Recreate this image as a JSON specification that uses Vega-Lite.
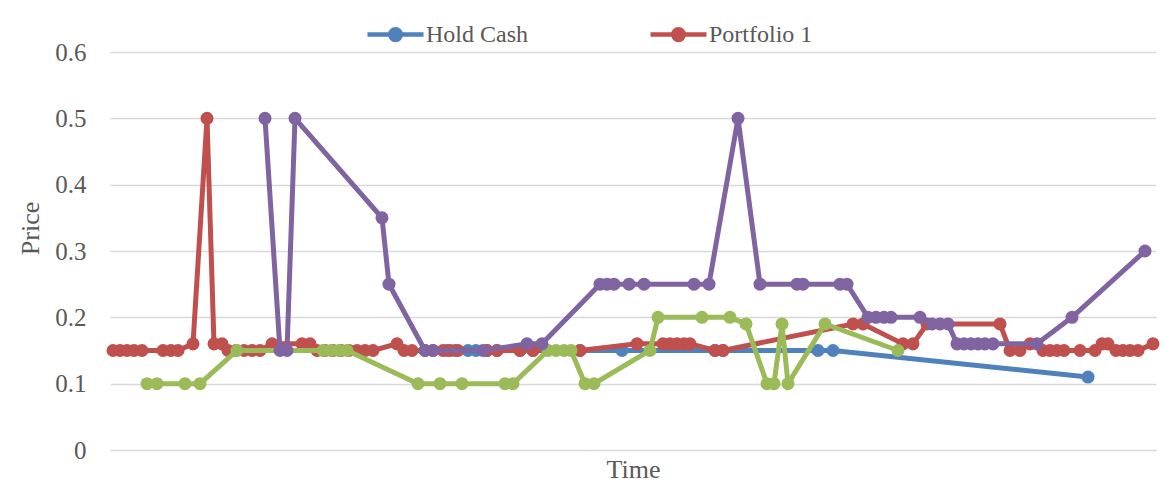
{
  "$schema": "https://vega.github.io/schema/vega-lite/v6.json",
  "width": 1046,
  "height": 398,
  "autosize": {"type": "none"},
  "padding": {"left": 110, "top": 52, "right": 11, "bottom": 40},
  "background": "white",
  "config": {
    "view": {"stroke": null},
    "font": "Liberation Serif"
  },
  "datasets": {
    "pts": [
      {"s": "Hold Cash", "t": 447, "p": 0.15},
      {"s": "Hold Cash", "t": 455, "p": 0.15},
      {"s": "Hold Cash", "t": 468, "p": 0.15},
      {"s": "Hold Cash", "t": 476, "p": 0.15},
      {"s": "Hold Cash", "t": 487, "p": 0.15},
      {"s": "Hold Cash", "t": 497, "p": 0.15},
      {"s": "Hold Cash", "t": 520, "p": 0.15},
      {"s": "Hold Cash", "t": 533, "p": 0.15},
      {"s": "Hold Cash", "t": 580, "p": 0.15},
      {"s": "Hold Cash", "t": 622, "p": 0.15},
      {"s": "Hold Cash", "t": 715, "p": 0.15},
      {"s": "Hold Cash", "t": 723, "p": 0.15},
      {"s": "Hold Cash", "t": 818, "p": 0.15},
      {"s": "Hold Cash", "t": 833, "p": 0.15},
      {"s": "Hold Cash", "t": 1088, "p": 0.11},

      {"s": "Portfolio 1", "t": 113, "p": 0.15},
      {"s": "Portfolio 1", "t": 120, "p": 0.15},
      {"s": "Portfolio 1", "t": 127, "p": 0.15},
      {"s": "Portfolio 1", "t": 134, "p": 0.15},
      {"s": "Portfolio 1", "t": 142, "p": 0.15},
      {"s": "Portfolio 1", "t": 163, "p": 0.15},
      {"s": "Portfolio 1", "t": 171, "p": 0.15},
      {"s": "Portfolio 1", "t": 178, "p": 0.15},
      {"s": "Portfolio 1", "t": 193, "p": 0.16},
      {"s": "Portfolio 1", "t": 207, "p": 0.5},
      {"s": "Portfolio 1", "t": 214, "p": 0.16},
      {"s": "Portfolio 1", "t": 222, "p": 0.16},
      {"s": "Portfolio 1", "t": 228, "p": 0.15},
      {"s": "Portfolio 1", "t": 236, "p": 0.15},
      {"s": "Portfolio 1", "t": 244, "p": 0.15},
      {"s": "Portfolio 1", "t": 252, "p": 0.15},
      {"s": "Portfolio 1", "t": 260, "p": 0.15},
      {"s": "Portfolio 1", "t": 272, "p": 0.16},
      {"s": "Portfolio 1", "t": 302, "p": 0.16},
      {"s": "Portfolio 1", "t": 310, "p": 0.16},
      {"s": "Portfolio 1", "t": 317, "p": 0.15},
      {"s": "Portfolio 1", "t": 325, "p": 0.15},
      {"s": "Portfolio 1", "t": 333, "p": 0.15},
      {"s": "Portfolio 1", "t": 341, "p": 0.15},
      {"s": "Portfolio 1", "t": 349, "p": 0.15},
      {"s": "Portfolio 1", "t": 357, "p": 0.15},
      {"s": "Portfolio 1", "t": 365, "p": 0.15},
      {"s": "Portfolio 1", "t": 373, "p": 0.15},
      {"s": "Portfolio 1", "t": 397, "p": 0.16},
      {"s": "Portfolio 1", "t": 404, "p": 0.15},
      {"s": "Portfolio 1", "t": 412, "p": 0.15},
      {"s": "Portfolio 1", "t": 425, "p": 0.15},
      {"s": "Portfolio 1", "t": 433, "p": 0.15},
      {"s": "Portfolio 1", "t": 443, "p": 0.15},
      {"s": "Portfolio 1", "t": 450, "p": 0.15},
      {"s": "Portfolio 1", "t": 458, "p": 0.15},
      {"s": "Portfolio 1", "t": 487, "p": 0.15},
      {"s": "Portfolio 1", "t": 497, "p": 0.15},
      {"s": "Portfolio 1", "t": 520, "p": 0.15},
      {"s": "Portfolio 1", "t": 533, "p": 0.15},
      {"s": "Portfolio 1", "t": 580, "p": 0.15},
      {"s": "Portfolio 1", "t": 637, "p": 0.16},
      {"s": "Portfolio 1", "t": 663, "p": 0.16},
      {"s": "Portfolio 1", "t": 670, "p": 0.16},
      {"s": "Portfolio 1", "t": 677, "p": 0.16},
      {"s": "Portfolio 1", "t": 684, "p": 0.16},
      {"s": "Portfolio 1", "t": 690, "p": 0.16},
      {"s": "Portfolio 1", "t": 715, "p": 0.15},
      {"s": "Portfolio 1", "t": 723, "p": 0.15},
      {"s": "Portfolio 1", "t": 853, "p": 0.19},
      {"s": "Portfolio 1", "t": 863, "p": 0.19},
      {"s": "Portfolio 1", "t": 903, "p": 0.16},
      {"s": "Portfolio 1", "t": 913, "p": 0.16},
      {"s": "Portfolio 1", "t": 927, "p": 0.19},
      {"s": "Portfolio 1", "t": 1000, "p": 0.19},
      {"s": "Portfolio 1", "t": 1010, "p": 0.15},
      {"s": "Portfolio 1", "t": 1020, "p": 0.15},
      {"s": "Portfolio 1", "t": 1030, "p": 0.16},
      {"s": "Portfolio 1", "t": 1043, "p": 0.15},
      {"s": "Portfolio 1", "t": 1050, "p": 0.15},
      {"s": "Portfolio 1", "t": 1057, "p": 0.15},
      {"s": "Portfolio 1", "t": 1064, "p": 0.15},
      {"s": "Portfolio 1", "t": 1080, "p": 0.15},
      {"s": "Portfolio 1", "t": 1095, "p": 0.15},
      {"s": "Portfolio 1", "t": 1102, "p": 0.16},
      {"s": "Portfolio 1", "t": 1108, "p": 0.16},
      {"s": "Portfolio 1", "t": 1116, "p": 0.15},
      {"s": "Portfolio 1", "t": 1123, "p": 0.15},
      {"s": "Portfolio 1", "t": 1130, "p": 0.15},
      {"s": "Portfolio 1", "t": 1138, "p": 0.15},
      {"s": "Portfolio 1", "t": 1153, "p": 0.16},

      {"s": "Portfolio 2", "t": 147, "p": 0.1},
      {"s": "Portfolio 2", "t": 157, "p": 0.1},
      {"s": "Portfolio 2", "t": 185, "p": 0.1},
      {"s": "Portfolio 2", "t": 200, "p": 0.1},
      {"s": "Portfolio 2", "t": 237, "p": 0.15},
      {"s": "Portfolio 2", "t": 323, "p": 0.15},
      {"s": "Portfolio 2", "t": 331, "p": 0.15},
      {"s": "Portfolio 2", "t": 339, "p": 0.15},
      {"s": "Portfolio 2", "t": 347, "p": 0.15},
      {"s": "Portfolio 2", "t": 418, "p": 0.1},
      {"s": "Portfolio 2", "t": 440, "p": 0.1},
      {"s": "Portfolio 2", "t": 462, "p": 0.1},
      {"s": "Portfolio 2", "t": 505, "p": 0.1},
      {"s": "Portfolio 2", "t": 513, "p": 0.1},
      {"s": "Portfolio 2", "t": 548, "p": 0.15},
      {"s": "Portfolio 2", "t": 556, "p": 0.15},
      {"s": "Portfolio 2", "t": 564, "p": 0.15},
      {"s": "Portfolio 2", "t": 571, "p": 0.15},
      {"s": "Portfolio 2", "t": 585, "p": 0.1},
      {"s": "Portfolio 2", "t": 594, "p": 0.1},
      {"s": "Portfolio 2", "t": 650, "p": 0.15},
      {"s": "Portfolio 2", "t": 658, "p": 0.2},
      {"s": "Portfolio 2", "t": 702, "p": 0.2},
      {"s": "Portfolio 2", "t": 730, "p": 0.2},
      {"s": "Portfolio 2", "t": 746, "p": 0.19},
      {"s": "Portfolio 2", "t": 767, "p": 0.1},
      {"s": "Portfolio 2", "t": 774, "p": 0.1},
      {"s": "Portfolio 2", "t": 782, "p": 0.19},
      {"s": "Portfolio 2", "t": 788, "p": 0.1},
      {"s": "Portfolio 2", "t": 825, "p": 0.19},
      {"s": "Portfolio 2", "t": 898, "p": 0.15},

      {"s": "Portfolio 3", "t": 265, "p": 0.5},
      {"s": "Portfolio 3", "t": 280, "p": 0.15},
      {"s": "Portfolio 3", "t": 287, "p": 0.15},
      {"s": "Portfolio 3", "t": 295, "p": 0.5},
      {"s": "Portfolio 3", "t": 382, "p": 0.35},
      {"s": "Portfolio 3", "t": 389, "p": 0.25},
      {"s": "Portfolio 3", "t": 425, "p": 0.15},
      {"s": "Portfolio 3", "t": 433, "p": 0.15},
      {"s": "Portfolio 3", "t": 483, "p": 0.15},
      {"s": "Portfolio 3", "t": 527, "p": 0.16},
      {"s": "Portfolio 3", "t": 542, "p": 0.16},
      {"s": "Portfolio 3", "t": 600, "p": 0.25},
      {"s": "Portfolio 3", "t": 607, "p": 0.25},
      {"s": "Portfolio 3", "t": 614, "p": 0.25},
      {"s": "Portfolio 3", "t": 629, "p": 0.25},
      {"s": "Portfolio 3", "t": 644, "p": 0.25},
      {"s": "Portfolio 3", "t": 694, "p": 0.25},
      {"s": "Portfolio 3", "t": 709, "p": 0.25},
      {"s": "Portfolio 3", "t": 738, "p": 0.5},
      {"s": "Portfolio 3", "t": 760, "p": 0.25},
      {"s": "Portfolio 3", "t": 797, "p": 0.25},
      {"s": "Portfolio 3", "t": 803, "p": 0.25},
      {"s": "Portfolio 3", "t": 840, "p": 0.25},
      {"s": "Portfolio 3", "t": 847, "p": 0.25},
      {"s": "Portfolio 3", "t": 868, "p": 0.2},
      {"s": "Portfolio 3", "t": 876, "p": 0.2},
      {"s": "Portfolio 3", "t": 884, "p": 0.2},
      {"s": "Portfolio 3", "t": 891, "p": 0.2},
      {"s": "Portfolio 3", "t": 920, "p": 0.2},
      {"s": "Portfolio 3", "t": 932, "p": 0.19},
      {"s": "Portfolio 3", "t": 940, "p": 0.19},
      {"s": "Portfolio 3", "t": 948, "p": 0.19},
      {"s": "Portfolio 3", "t": 957, "p": 0.16},
      {"s": "Portfolio 3", "t": 964, "p": 0.16},
      {"s": "Portfolio 3", "t": 971, "p": 0.16},
      {"s": "Portfolio 3", "t": 978, "p": 0.16},
      {"s": "Portfolio 3", "t": 985, "p": 0.16},
      {"s": "Portfolio 3", "t": 993, "p": 0.16},
      {"s": "Portfolio 3", "t": 1037, "p": 0.16},
      {"s": "Portfolio 3", "t": 1072, "p": 0.2},
      {"s": "Portfolio 3", "t": 1145, "p": 0.3}
    ]
  },
  "data": {"name": "pts"},
  "encoding": {
    "x": {
      "field": "t", "type": "quantitative",
      "scale": {"domain": [110, 1156], "nice": false, "zero": false},
      "axis": {
        "labels": false, "ticks": false, "domain": false, "grid": false,
        "title": "Time", "titleFont": "Liberation Serif", "titleFontSize": 26,
        "titleFontWeight": "normal", "titleColor": "#595959", "titlePadding": 6
      }
    },
    "y": {
      "field": "p", "type": "quantitative",
      "scale": {"domain": [0, 0.6], "nice": false},
      "axis": {
        "values": [0, 0.1, 0.2, 0.3, 0.4, 0.5, 0.6],
        "format": ".1~f",
        "ticks": false, "domain": false,
        "grid": true, "gridColor": "#d9d9d9", "gridWidth": 1.5,
        "labelFont": "Liberation Serif", "labelFontSize": 25, "labelColor": "#595959",
        "labelPadding": 24,
        "title": "Price", "titleFont": "Liberation Serif", "titleFontSize": 26,
        "titleFontWeight": "normal", "titleColor": "#595959",
        "titleX": -67, "titleY": 176, "titleAlign": "center"
      }
    },
    "color": {
      "field": "s", "type": "nominal",
      "scale": {
        "domain": ["Hold Cash", "Portfolio 1", "Portfolio 2", "Portfolio 3"],
        "range": ["#4f81bd", "#c0504d", "#9bbb59", "#8064a2"]
      },
      "legend": {
        "values": ["Hold Cash", "Portfolio 1"],
        "title": null,
        "orient": "none",
        "direction": "horizontal",
        "legendX": 255,
        "legendY": -48,
        "columnPadding": 113,
        "labelFont": "Liberation Serif",
        "labelFontSize": 24,
        "labelColor": "#595959",
        "labelOffset": 0,
        "symbolType": "M-1,0H1M-0.19,0A0.19,0.19 0 1,0 0.19,0A0.19,0.19 0 1,0 -0.19,0Z",
        "symbolSize": 3136,
        "symbolStrokeWidth": 4.5
      }
    }
  },
  "layer": [
    {
      "transform": [{"filter": "datum.s === 'Hold Cash'"}],
      "mark": {"type": "line", "strokeWidth": 5, "point": {"filled": true, "size": 170, "opacity": 1}}
    },
    {
      "transform": [{"filter": "datum.s === 'Portfolio 1'"}],
      "mark": {"type": "line", "strokeWidth": 5, "point": {"filled": true, "size": 170, "opacity": 1}}
    },
    {
      "transform": [{"filter": "datum.s === 'Portfolio 2'"}],
      "mark": {"type": "line", "strokeWidth": 5, "point": {"filled": true, "size": 170, "opacity": 1}}
    },
    {
      "transform": [{"filter": "datum.s === 'Portfolio 3'"}],
      "mark": {"type": "line", "strokeWidth": 5, "point": {"filled": true, "size": 170, "opacity": 1}}
    }
  ]
}
